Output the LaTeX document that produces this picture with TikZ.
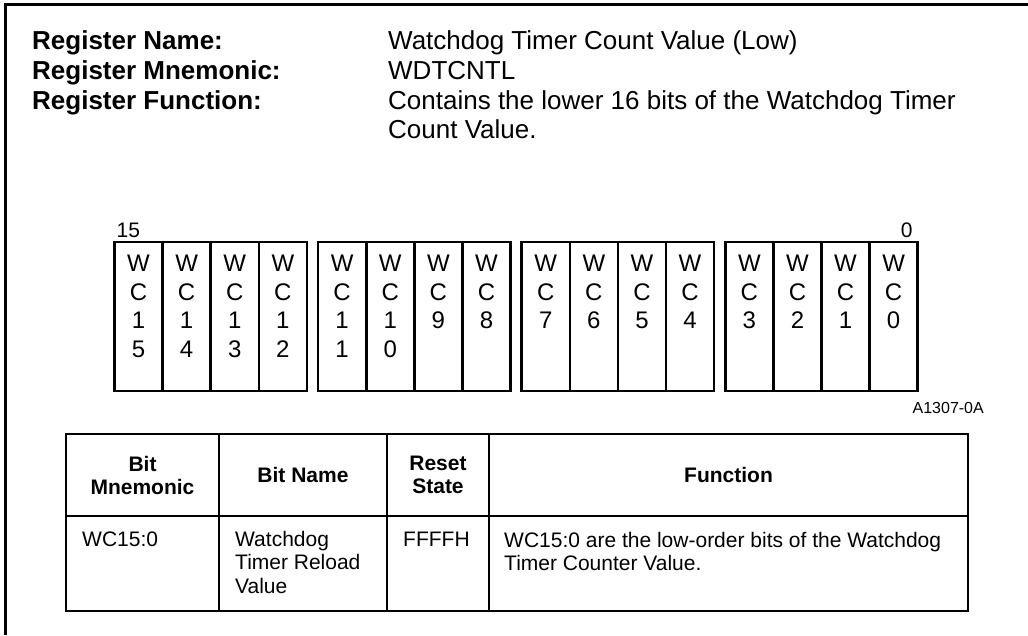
\documentclass[tikz,border=0pt]{standalone}
\usepackage{fontspec}
\setmainfont{Liberation Sans}
\usepackage{xcolor}
\usepackage{tikz}
\usetikzlibrary{positioning}
\definecolor{ink}{HTML}{000000}
\tikzset{
  pageframe/.style={draw=ink, line width=3pt},
  fieldname/.style={font=\fontsize{26}{30}\selectfont\bfseries, text=ink, anchor=base west, inner sep=0pt},
  fieldvalue/.style={font=\fontsize{26}{29}\selectfont, text=ink, anchor=base west, inner sep=0pt},
  bitcell/.style={draw=ink, line width=2.6pt, minimum width=48.1pt, minimum height=149pt,
    anchor=north west, inner sep=0pt, outer sep=0pt},
  bittext/.style={font=\fontsize{24}{28.5}\selectfont, text=ink, align=center, anchor=north, inner sep=0pt},
  bitpos/.style={font=\fontsize{21}{24}\selectfont, text=ink, inner sep=0pt},
  figid/.style={font=\fontsize{16}{18}\selectfont, text=ink, anchor=base east, inner sep=0pt},
  headcell/.style={draw=ink, line width=2pt, minimum height=82pt, anchor=north west,
    inner sep=0pt, outer sep=0pt, align=center, font=\fontsize{21}{23}\selectfont\bfseries},
  bodycell/.style={draw=ink, line width=2pt, minimum height=95pt, anchor=north west,
    inner sep=0pt, outer sep=0pt},
  celltext/.style={font=\fontsize{21}{23.5}\selectfont, text=ink, anchor=north west, align=left, inner sep=0pt}
}

\begin{document}
\begin{tikzpicture}[x=1pt,y=-1pt]
\useasboundingbox (0,0) rectangle (1028,635);
\fill[white] (0,0) rectangle (1028,635);
\draw[pageframe] (1028,4) -- (5,4) -- (5,635);

\node[fieldname] (namekey) at (32,49) {Register Name:};
\node[fieldname] (mnemkey) at (32,79) {Register Mnemonic:};
\node[fieldname] (funckey) at (32,109) {Register Function:};
\node[fieldvalue] (nameval) at (388,49) {Watchdog Timer Count Value (Low)};
\node[fieldvalue] (mnemval) at (388,79) {WDTCNTL};
\node[fieldvalue, text width=620pt, align=flush left] (funcval) at (388,109)
  {Contains the lower 16 bits of the Watchdog Timer\\Count Value.};

\foreach \g in {0,...,3}{
  \foreach \c in {0,...,3}{
    \pgfmathtruncatemacro{\bit}{15-4*\g-\c}
    \pgfmathtruncatemacro{\lo}{\bit-10}
    \ifnum\bit>9 \def\bitlabel{W\\C\\1\\\lo}\else\def\bitlabel{W\\C\\\bit}\fi
    \node[bitcell] (wc\bit) at ({114.5+203.6*\g+48.1*\c},242) {};
    \node[bittext] (lbl\bit) at ([yshift=-13pt]wc\bit.north) {\bitlabel};
  }
}
\node[bitpos, anchor=base west] (msb) at ([xshift=2pt,yshift=5pt]wc15.north west) {15};
\node[bitpos, anchor=base east] (lsb) at ([xshift=-5pt,yshift=5pt]wc0.north east) {0};
\node[figid] (figno) at (984,413) {A1307-0A};

\node[headcell, minimum width=153pt] (hmnem) at (66,434) {Bit\\Mnemonic};
\node[headcell, minimum width=168pt] (hname) at (hmnem.north east) {Bit Name};
\node[headcell, minimum width=102pt] (hreset) at (hname.north east) {Reset\\State};
\node[headcell, minimum width=479pt] (hfunc) at (hreset.north east) {Function};
\node[bodycell, minimum width=153pt] (bmnem) at (hmnem.south west) {};
\node[bodycell, minimum width=168pt] (bname) at (hname.south west) {};
\node[bodycell, minimum width=102pt] (breset) at (hreset.south west) {};
\node[bodycell, minimum width=479pt] (bfunc) at (hfunc.south west) {};

\node[celltext] (tmnem) at ([xshift=16pt,yshift=-16pt]bmnem.north west) {WC15:0};
\node[celltext] (tname) at ([xshift=16pt,yshift=-15pt]bname.north west) {Watchdog\\Timer Reload\\Value};
\node[celltext] (treset) at ([xshift=16pt,yshift=-16pt]breset.north west) {FFFFH};
\node[celltext] (tfunc) at ([xshift=15pt,yshift=-16pt]bfunc.north west)
  {WC15:0 are the low-order bits of the Watchdog\\Timer Counter Value.};
\end{tikzpicture}
\end{document}
